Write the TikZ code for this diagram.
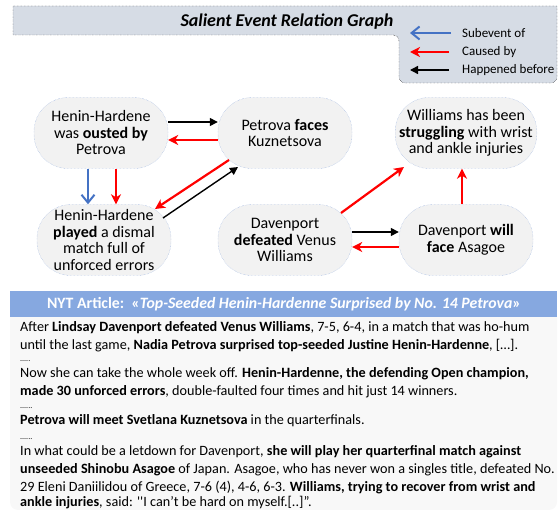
\documentclass[tikz,border=0pt]{standalone}
\usepackage{fontspec}
\setmainfont{Carlito}
\usetikzlibrary{arrows.meta}
\definecolor{legendbg}{HTML}{D6DCE5}
\definecolor{eventbg}{HTML}{F2F2F2}
\definecolor{eventline}{HTML}{8FAADC}
\definecolor{subblue}{HTML}{4472C4}
\definecolor{headblue}{HTML}{86A8E0}
\definecolor{textbg}{HTML}{F8F8F8}
\begin{document}
\begin{tikzpicture}[
	x=1pt, y=-1pt,
	event/.style={
		rectangle, rounded corners=34pt,
		draw=eventline, densely dotted, fill=eventbg,
		minimum width=134pt, minimum height=71pt,
		inner xsep=4pt, align=center,
		font=\fontsize{16}{16.5}\selectfont
	},
	subevent/.style={-{Straight Barb[length=8pt,width=13pt]}, subblue, line width=2pt},
	causal/.style={-{Stealth[length=10pt,width=10pt,inset=3pt]}, red, line width=2.2pt},
	before/.style={-{Triangle[length=8pt,width=8pt]}, black, line width=1.4pt},
	legendtext/.style={anchor=west, font=\fontsize{13}{13}\selectfont, inner sep=0pt},
	textline/.style={anchor=base west, font=\fontsize{14.2}{18}\selectfont, inner sep=0pt},
	dotline/.style={anchor=base west, font=\fontsize{8}{8}\selectfont, inner sep=0pt}
]
	\useasboundingbox (0,0) rectangle (560,510);

	% title bar and legend
	\draw[densely dotted, fill=legendbg]
		(13,6) -- (557,6) [rounded corners=6pt] -- (557,83) -- (399,83) -- (399,35)
		[sharp corners] -- (13,35) -- cycle;
	\node[font=\fontsize{18}{18}\selectfont\bfseries\itshape] (title) at (287,22) {Salient Event Relation Graph};

	\coordinate (subA) at (451,33);
	\coordinate (subB) at (410,33);
	\coordinate (cauA) at (449,52);
	\coordinate (cauB) at (410,52);
	\coordinate (befA) at (449,70);
	\coordinate (befB) at (410,70);
	\draw[subevent] (subA) -- (subB);
	\draw[causal] (cauA) -- (cauB);
	\draw[before] (befA) -- (befB);
	\node[legendtext] (subtext) at (462,33) {Subevent of};
	\node[legendtext] (cautext) at (462,52) {Caused by};
	\node[legendtext] (beftext) at (462,70) {Happened before};

	% events
	\node[event] (ousted) at (101,133) {Henin-Hardene\\was \textbf{ousted by}\\Petrova};
	\node[event] (faces) at (285,133) {Petrova \textbf{faces}\\Kuznetsova};
	\node[event] (struggle) at (466,133) {Williams has been\\\textbf{struggling} with wrist\\and ankle injuries};
	\node[event] (played) at (104,240) {Henin-Hardene\\\textbf{played} a dismal\\match full of\\unforced errors};
	\node[event] (defeated) at (285,240) {Davenport\\\textbf{defeated} Venus\\Williams};
	\node[event] (willface) at (466,240) {Davenport \textbf{will}\\\textbf{face} Asagoe};

	% relations
	\draw[before] ([yshift=11pt]ousted.east) -- ([yshift=11pt]faces.west);
	\draw[causal] ([yshift=-7pt]faces.west) -- ([yshift=-7pt]ousted.east);
	\draw[subevent] ([xshift=-13pt]ousted.south) -- ([xshift=-13pt]ousted.south |- played.north);
	\draw[causal] ([xshift=15pt]ousted.south) -- ([xshift=15pt]ousted.south |- played.north);
	\draw[causal] ([shift={(-56,27)}]faces.center) -- ([shift={(51,-31)}]played.center);
	\draw[before] ([shift={(59,-22)}]played.center) -- ([shift={(-47,34)}]faces.center);
	\draw[causal] ([shift={(56,-27)}]defeated.center) -- ([shift={(-62,34)}]struggle.center);
	\draw[causal] ([xshift=-4pt]willface.north) -- ([xshift=-4pt]willface.north |- struggle.south);
	\draw[before] ([yshift=8pt]defeated.east) -- ([yshift=8pt]willface.west);
	\draw[causal] ([yshift=-7pt]willface.west) -- ([yshift=-7pt]defeated.east);

	% article
	\fill[textbg, rounded corners=8pt] (10,310) -- (10,510) -- (557,510) -- (557,310) -- cycle;
	\fill[headblue] (10,291) rectangle (557,317);
	\node[text=white, font=\fontsize{15.8}{16}\selectfont\bfseries] (header) at (284,304)
		{NYT Article:\ \ «\textit{Top-Seeded Henin-Hardenne Surprised by No. 14 Petrova}»};

	\node[textline] (l1) at (20,332) {After \textbf{Lindsay Davenport defeated Venus Williams}, 7-5, 6-4, in a match that was ho-hum};
	\node[textline] (l2) at (20,350) {until the last game, \textbf{Nadia Petrova surprised top-seeded Justine Henin-Hardenne}, [\ldots].};
	\node[dotline] (d1) at (20,362) {.....};
	\node[textline] (l3) at (20,378) {Now she can take the whole week off. \textbf{Henin-Hardenne, the defending Open champion,}};
	\node[textline] (l4) at (20,396) {\textbf{made 30 unforced errors}, double-faulted four times and hit just 14 winners.};
	\node[dotline] (d2) at (20,409) {......};
	\node[textline] (l5) at (20,425) {\textbf{Petrova will meet Svetlana Kuznetsova} in the quarterfinals.};
	\node[dotline] (d3) at (20,440) {......};
	\node[textline] (l6) at (20,456) {In what could be a letdown for Davenport, \textbf{she will play her quarterfinal match against}};
	\node[textline] (l7) at (20,474) {\textbf{unseeded Shinobu Asagoe} of Japan. Asagoe, who has never won a singles title, defeated No.};
	\node[textline] (l8) at (20,492) {29 Eleni Daniilidou of Greece, 7-6 (4), 4-6, 6-3. \textbf{Williams, trying to recover from wrist and}};
	\node[textline] (l9) at (20,507) {\textbf{ankle injuries}, said: {\addfontfeature{Ligatures=TeXOff}''}I can't be hard on myself.[..]''.};
\end{tikzpicture}
\end{document}
